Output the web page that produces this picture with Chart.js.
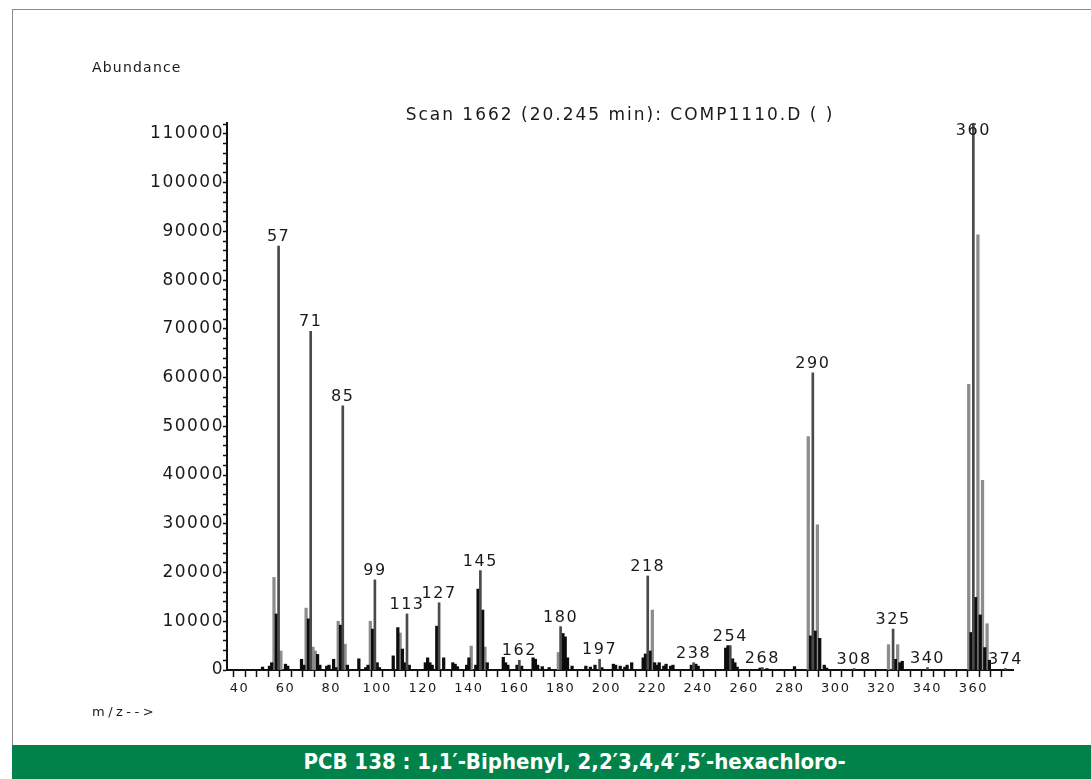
<!DOCTYPE html>
<html>
<head>
<meta charset="utf-8">
<script src="https://cdn.jsdelivr.net/npm/chart.js@4/dist/chart.umd.min.js"></script>
<style>
  html, body { margin: 0; padding: 0; background: #fff; }
  body { width: 1091px; height: 779px; position: relative; overflow: hidden; }
  #frame { position: absolute; left: 12px; top: 9px; width: 1079px; height: 736px;
           border-left: 1px solid #8a8a8a; border-top: 1px solid #8a8a8a; box-sizing: border-box; }
  #wrap { position: absolute; left: 0; top: 0; width: 1091px; height: 745px; }
  #banner { position: absolute; left: 12px; top: 745px; width: 1079px; height: 34px; box-sizing: border-box;
            padding-left: 46px;
            background: #00824a; color: #fff; font-family: "DejaVu Sans Condensed", "DejaVu Sans", sans-serif;
            font-weight: bold; font-size: 22px; line-height: 34px; text-align: center; }
</style>
</head>
<body>
<div id="frame"></div>
<div id="wrap"><canvas id="c" width="1091" height="745"></canvas></div>
<div id="banner">PCB 138 : 1,1′-Biphenyl, 2,2′3,4,4′,5′-hexachloro-</div>
<script>
// Labeled peaks (m/z and abundance)
const peakMz = [57, 71, 85, 99, 113, 127, 145, 162, 180, 197, 218, 238, 254, 268, 290, 308, 325, 340, 360, 374];
const peakAb = [87000, 69500, 54200, 18500, 11500, 13800, 20400, 2000, 8900, 2200, 19300, 1500, 5000, 500, 61000, 300, 8400, 500, 112000, 300];

// Gray (isotope / neighbour) peaks
const grayMz = [55, 58, 69, 72, 73, 83, 86, 97, 110, 141, 147, 179, 220, 288, 292, 323, 327, 358, 362, 364, 366];
const grayAb = [19000, 3900, 12700, 4700, 3900, 10000, 5300, 10000, 7600, 4900, 4700, 3600, 12300, 47900, 29800, 5200, 5200, 58600, 89300, 38900, 9500];

// Black peaks
const blackMz = [50, 53, 54, 56, 60, 61, 67, 68, 70, 74, 75, 78, 79, 81, 82, 84, 87, 92, 95, 96, 98, 100, 101,
  107, 109, 111, 112, 114, 121, 122, 123, 124, 126, 129, 133, 134, 135, 139, 140, 143, 144, 146, 148,
  155, 156, 157, 161, 163, 168, 169, 170, 172, 175, 181, 182, 183, 185, 191, 193, 195, 198,
  203, 204, 206, 208, 209, 211, 216, 217, 219, 221, 222, 223, 225, 226, 228, 229, 237, 239, 240,
  252, 253, 255, 256, 257, 267, 270, 282, 289, 291, 293, 295, 296, 326, 328, 329, 359, 361, 363, 365, 367];
const blackAb = [600, 800, 1500, 11500, 1200, 800, 2200, 1000, 10500, 3200, 1000, 800, 1000, 2200, 500, 9200, 1000, 2300, 500, 1000, 8400, 1500, 500,
  2900, 8700, 4300, 1500, 1000, 1500, 2500, 1500, 1000, 9000, 2500, 1500, 1200, 700, 1000, 2500, 1000, 16600, 12300, 1500,
  2600, 1500, 1000, 1000, 800, 2500, 2200, 1000, 700, 500, 7500, 6800, 2500, 800, 800, 600, 1000, 500,
  1200, 1000, 800, 600, 1000, 1500, 2500, 3300, 3900, 1500, 1000, 1500, 800, 1200, 800, 1000, 1000, 1200, 800,
  4500, 5000, 2300, 1500, 600, 400, 300, 700, 7000, 8000, 6500, 1000, 400, 2200, 1500, 1800, 7700, 14900, 11300, 4600, 2000];

const xMin = 34.5, xMax = 377.3, yMax = 112250;
const yMinorStep = 2000, yLabelStep = 10000;
const xMinorStep = 5, xLabelStep = 20, xLabelFirst = 40, xLabelLast = 360;
const titleText = 'Scan 1662 (20.245 min): COMP1110.D ( )';
const yAxisTitle = 'Abundance';
const xAxisTitle = 'm/z-->';

const TXT = '#1a1a1a';
const FONT = '"DejaVu Sans", sans-serif';

const pts = (mz, ab) => mz.map((m, i) => ({ x: m, y: ab[i] }));

const textPlugin = {
  id: 'texts',
  beforeDraw(chart) { chart.ctx.letterSpacing = '1.5px'; },
  afterDraw(chart) {
    const { ctx, chartArea, scales } = chart;
    const xs = scales.x, ys = scales.y;
    ctx.save();
    ctx.letterSpacing = '1.5px';
    ctx.fillStyle = TXT;
    ctx.font = '16px ' + FONT;
    ctx.textAlign = 'center';
    ctx.textBaseline = 'bottom';
    peakMz.forEach((m, i) => {
      const px = xs.getPixelForValue(m);
      let py = ys.getPixelForValue(peakAb[i]) - 1;
      py = Math.max(py, chartArea.top + 16);
      ctx.fillText(String(m), px, py);
    });
    ctx.textBaseline = 'middle';
    ctx.letterSpacing = '2px';
    ctx.font = '17px ' + FONT;
    ctx.fillText(titleText, (chartArea.left + chartArea.right) / 2, 116);
    ctx.textAlign = 'left';
    ctx.letterSpacing = '1.2px';
    ctx.font = '14px ' + FONT;
    ctx.fillText(yAxisTitle, 92, 68);
    ctx.letterSpacing = '3.5px';
    ctx.font = '13px ' + FONT;
    ctx.fillText(xAxisTitle, 92, 713);
    ctx.restore();
  }
};

new Chart(document.getElementById('c'), {
  type: 'bar',
  data: {
    datasets: [
      { label: 'gray', data: pts(grayMz, grayAb), backgroundColor: '#8c8c8c', barThickness: 2.6, grouped: false, order: 3 },
      { label: 'black', data: pts(blackMz, blackAb), backgroundColor: '#0d0d0d', barThickness: 2.6, grouped: false, order: 2 },
      { label: 'peaks', data: pts(peakMz, peakAb), backgroundColor: '#4a4a4a', barThickness: 2, grouped: false, order: 1 }
    ]
  },
  options: {
    responsive: false,
    animation: false,
    events: [],
    layout: { padding: { left: 0, top: 123, right: 78, bottom: 0 } },
    plugins: { legend: { display: false }, tooltip: { enabled: false }, title: { display: false } },
    scales: {
      x: {
        type: 'linear', min: xMin, max: xMax, offset: false,
        grid: { drawOnChartArea: false, drawTicks: true, tickLength: 7, color: '#111', tickWidth: 1.5 },
        border: { display: true, color: '#111', width: 2 },
        ticks: {
          autoSkip: false, maxRotation: 0, padding: 4,
          color: TXT, font: { family: FONT, size: 13 },
          callback: (v) => (v % xLabelStep === 0 && v >= xLabelFirst && v <= xLabelLast) ? String(v) : ''
        },
        afterBuildTicks: (s) => {
          const t = [];
          for (let v = Math.ceil(xMin / xMinorStep) * xMinorStep; v <= xMax; v += xMinorStep) t.push({ value: v });
          s.ticks = t;
        },
        afterFit: (s) => { s.height = 75; }
      },
      y: {
        type: 'linear', min: 0, max: yMax,
        grid: { drawOnChartArea: false, drawTicks: true, tickLength: 4, color: '#111', tickWidth: 1.5 },
        border: { display: true, color: '#111', width: 2 },
        ticks: {
          autoSkip: false, padding: -1,
          color: TXT, font: { family: FONT, size: 17 },
          callback: (v) => (v % yLabelStep === 0) ? String(v) : ''
        },
        afterBuildTicks: (s) => {
          const t = [];
          for (let v = 0; v <= yMax; v += yMinorStep) t.push({ value: v });
          s.ticks = t;
        },
        afterFit: (s) => { s.width = 227; }
      }
    }
  },
  plugins: [textPlugin]
});
</script>
</body>
</html>
